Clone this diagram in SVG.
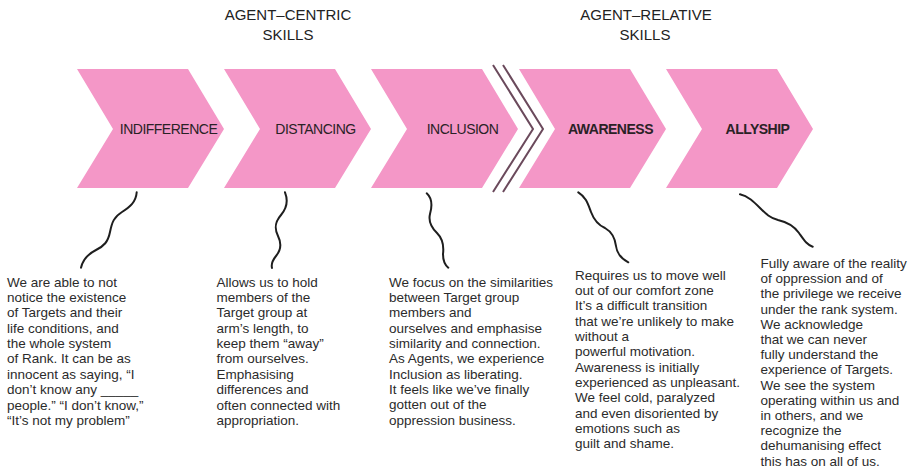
<svg xmlns="http://www.w3.org/2000/svg" width="914" height="470" viewBox="0 0 914 470">
<style>
.chev{fill:#f497c7}
.lbl{font-family:"Liberation Sans",Arial,sans-serif;font-size:14px;fill:#2a2226;text-anchor:middle;letter-spacing:-0.5px}
.lblb{font-weight:bold}
.hdr{font-family:"Liberation Sans",Arial,sans-serif;font-size:15px;fill:#222;text-anchor:middle}
.body{font-family:"Liberation Sans",Arial,sans-serif;font-size:13.5px;fill:#2b2b2b}
.sq{fill:none;stroke:#1e1e1e;stroke-width:2;stroke-linecap:round}
.sep{fill:none;stroke:#6b4a5c;stroke-width:2}
</style>
<rect width="914" height="470" fill="#fff"/>
<g id="headers">
<text class="hdr" x="288" y="19.5">AGENT–CENTRIC</text>
<text class="hdr" x="288" y="39.5">SKILLS</text>
<text class="hdr" x="646" y="19.5">AGENT–RELATIVE</text>
<text class="hdr" x="645" y="39.5">SKILLS</text>
</g>
<g id="indifference">
<polygon class="chev" points="77,69 188,69 224,129 188,188 77,188 113,129"/>
<text class="lbl" x="168.5" y="134">INDIFFERENCE</text>
</g>
<g id="distancing">
<polygon class="chev" points="224,69 335,69 371,129 335,188 224,188 260,129"/>
<text class="lbl" x="315.5" y="134">DISTANCING</text>
</g>
<g id="inclusion">
<polygon class="chev" points="371,69 482,69 518,129 482,188 371,188 407,129"/>
<text class="lbl" x="462.5" y="134">INCLUSION</text>
</g>
<g id="awareness">
<polygon class="chev" points="519,69 630,69 666,129 630,188 519,188 555,129"/>
<text class="lbl lblb" x="610.5" y="134">AWARENESS</text>
</g>
<g id="allyship">
<polygon class="chev" points="666,69 777,69 813,129 777,188 666,188 702,129"/>
<text class="lbl lblb" x="757.5" y="134">ALLYSHIP</text>
</g>
<g id="separator">
<polyline class="sep" points="493,65 533,129 493,192"/>
<polyline class="sep" points="503,65 543,129 503,192"/>
</g>
<g id="connectors">
<path class="sq" d="M136.7,192.3 C136,202 130,207 122,212 C114,217 112,222 110,232 C108,242 104,246 96,250 C88,254 83,259 81,267.7"/>
<path class="sq" d="M285,192.3 C288,200 287,208 281,215 C275,222 274,228 278,236 C282,244 281,250 276,256 C272,261 271,264 272,268"/>
<path class="sq" d="M426.7,193.3 C433,199 432,207 430,214 C428,222 432,228 437,233 C443,239 444,246 443,254 C443,260 445,265 448.3,267.7"/>
<path class="sq" d="M578.3,192.3 C586,197 588,204 591,212 C594,220 598,225 605,228 C612,232 615,238 616,246 C617,254 622,259 628.3,262.3"/>
<path class="sq" d="M740,194.3 C748,196 754,202 760,208 C766,214 770,218 778,220 C787,222 794,226 799,233 C804,240 807,245 812.7,246.7"/>
</g>
<g id="text-indifference">
<text class="body" x="7" y="286.7">
<tspan x="7">We are able to not</tspan>
<tspan x="7" dy="15.35">notice the existence</tspan>
<tspan x="7" dy="15.35">of Targets and their</tspan>
<tspan x="7" dy="15.35">life conditions, and</tspan>
<tspan x="7" dy="15.35">the whole system</tspan>
<tspan x="7" dy="15.35">of Rank. It can be as</tspan>
<tspan x="7" dy="15.35">innocent as saying, “I</tspan>
<tspan x="7" dy="15.35">don’t know any _____</tspan>
<tspan x="7" dy="15.35">people.” “I don’t know,”</tspan>
<tspan x="7" dy="15.35">“It’s not my problem”</tspan>
</text>
</g>
<g id="text-distancing">
<text class="body" x="216.5" y="286.7">
<tspan x="216.5">Allows us to hold</tspan>
<tspan x="216.5" dy="15.35">members of the</tspan>
<tspan x="216.5" dy="15.35">Target group at</tspan>
<tspan x="216.5" dy="15.35">arm’s length, to</tspan>
<tspan x="216.5" dy="15.35">keep them “away”</tspan>
<tspan x="216.5" dy="15.35">from ourselves.</tspan>
<tspan x="216.5" dy="15.35">Emphasising</tspan>
<tspan x="216.5" dy="15.35">differences and</tspan>
<tspan x="216.5" dy="15.35">often connected with</tspan>
<tspan x="216.5" dy="15.35">appropriation.</tspan>
</text>
</g>
<g id="text-inclusion">
<text class="body" x="389" y="286.5">
<tspan x="389">We focus on the similarities</tspan>
<tspan x="389" dy="15.35">between Target group</tspan>
<tspan x="389" dy="15.35">members and</tspan>
<tspan x="389" dy="15.35">ourselves and emphasise</tspan>
<tspan x="389" dy="15.35">similarity and connection.</tspan>
<tspan x="389" dy="15.35">As Agents, we experience</tspan>
<tspan x="389" dy="15.35">Inclusion as liberating.</tspan>
<tspan x="389" dy="15.35">It feels like we’ve finally</tspan>
<tspan x="389" dy="15.35">gotten out of the</tspan>
<tspan x="389" dy="15.35">oppression business.</tspan>
</text>
</g>
<g id="text-awareness">
<text class="body" x="575" y="279.8">
<tspan x="575">Requires us to move well</tspan>
<tspan x="575" dy="15.3">out of our comfort zone</tspan>
<tspan x="575" dy="15.3">It’s a difficult transition</tspan>
<tspan x="575" dy="15.3">that we’re unlikely to make</tspan>
<tspan x="575" dy="15.3">without a</tspan>
<tspan x="575" dy="15.3">powerful motivation.</tspan>
<tspan x="575" dy="15.3">Awareness is initially</tspan>
<tspan x="575" dy="15.3">experienced as unpleasant.</tspan>
<tspan x="575" dy="15.3">We feel cold, paralyzed</tspan>
<tspan x="575" dy="15.3">and even disoriented by</tspan>
<tspan x="575" dy="15.3">emotions such as</tspan>
<tspan x="575" dy="15.3">guilt and shame.</tspan>
</text>
</g>
<g id="text-allyship">
<text class="body" x="760.5" y="268">
<tspan x="760.5">Fully aware of the reality</tspan>
<tspan x="760.5" dy="15.2">of oppression and of</tspan>
<tspan x="760.5" dy="15.2">the privilege we receive</tspan>
<tspan x="760.5" dy="15.2">under the rank system.</tspan>
<tspan x="760.5" dy="15.2">We acknowledge</tspan>
<tspan x="760.5" dy="15.2">that we can never</tspan>
<tspan x="760.5" dy="15.2">fully understand the</tspan>
<tspan x="760.5" dy="15.2">experience of Targets.</tspan>
<tspan x="760.5" dy="15.2">We see the system</tspan>
<tspan x="760.5" dy="15.2">operating within us and</tspan>
<tspan x="760.5" dy="15.2">in others, and we</tspan>
<tspan x="760.5" dy="15.2">recognize the</tspan>
<tspan x="760.5" dy="15.2">dehumanising effect</tspan>
<tspan x="760.5" dy="15.2">this has on all of us.</tspan>
</text>
</g>
</svg>
